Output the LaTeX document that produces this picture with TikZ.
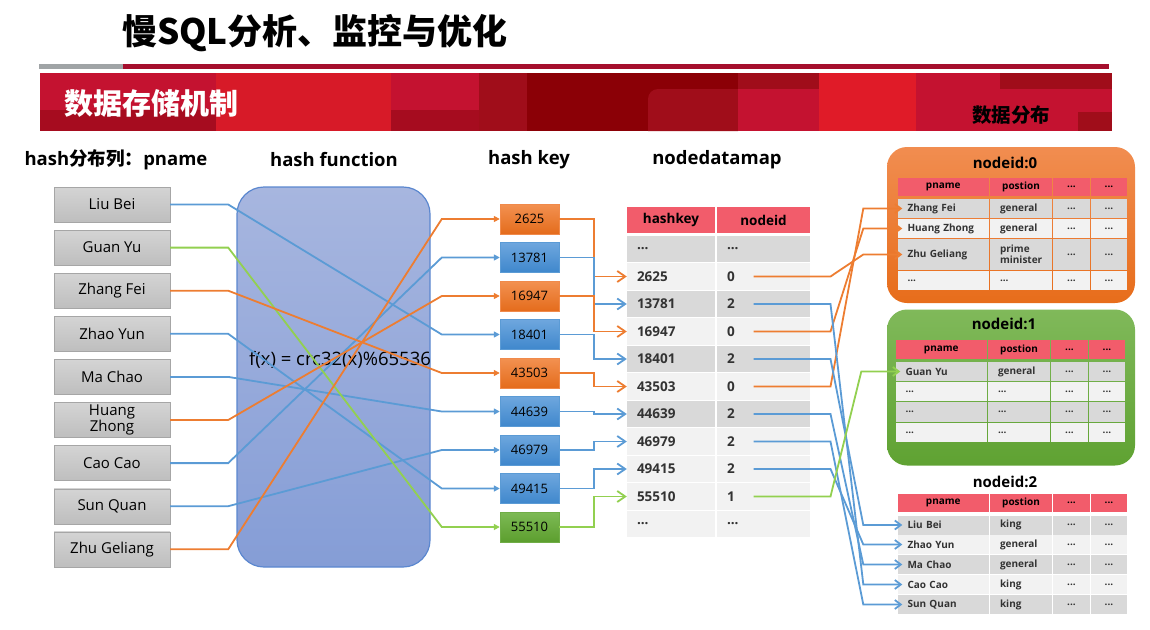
\documentclass[tikz,border=0pt]{standalone}
\usepackage{fontspec}
\setmainfont{Open Sans}
\newfontfamily\cjk{Noto Sans CJK SC}
\usetikzlibrary{arrows.meta}

\definecolor{orline}{HTML}{ED7D31}
\definecolor{blline}{HTML}{5B9BD5}
\definecolor{grline}{HTML}{92D050}
\definecolor{ortop}{HTML}{F39151}
\definecolor{orbot}{HTML}{E46C1C}
\definecolor{orbd}{HTML}{F08A4B}
\definecolor{bltop}{HTML}{6EA7DE}
\definecolor{blbot}{HTML}{3F87CC}
\definecolor{blbd}{HTML}{5B9BD5}
\definecolor{grtop}{HTML}{7DBA55}
\definecolor{grbot}{HTML}{5C9E2E}
\definecolor{grbd}{HTML}{70AD47}
\definecolor{dk}{HTML}{D9D9D9}
\definecolor{lt}{HTML}{F2F2F2}
\definecolor{hdred}{HTML}{F25C6B}
\definecolor{txt}{HTML}{333333}
\definecolor{gtop}{HTML}{D4D4D4}
\definecolor{gbot}{HTML}{BEBEBE}
\definecolor{gbd}{HTML}{A6A6A6}
\definecolor{hftop}{HTML}{A7B6DF}
\definecolor{hfbot}{HTML}{859DD6}
\definecolor{hfbd}{HTML}{5B87CF}
\definecolor{nor1}{HTML}{F18D50}
\definecolor{nor2}{HTML}{E76D1B}
\definecolor{ngr1}{HTML}{80B95A}
\definecolor{ngr2}{HTML}{5FA232}
\definecolor{barg}{HTML}{A0A4A6}
\definecolor{barr}{HTML}{A50F2D}
\definecolor{bn1}{HTML}{C41230}
\definecolor{bn2}{HTML}{A60C1F}
\definecolor{bn3}{HTML}{D71A28}
\definecolor{bn4}{HTML}{A00D1A}
\definecolor{bn5}{HTML}{8B0006}
\definecolor{bn6}{HTML}{E01B28}

\newcommand\fsz[2]{\fontsize{#1}{#2}\selectfont}
\newcommand\dd{...}

\tikzset{>=stealth,
  namebox/.style={draw=gbd, top color=gtop, bottom color=gbot, minimum width=116, minimum height=35, inner sep=1pt, align=center, font=\fsz{15}{16}},
  keybox/.style={draw=#1bd, top color=#1top, bottom color=#1bot, minimum width=59, minimum height=30, font=\fsz{13}{14}},
  link/.style={draw=#1line, line width=1.8pt},
  collabel/.style={font=\bfseries\fsz{18.5}{20}},
  hdcell/.style={fill=hdred, inner sep=0pt, font=\bfseries\fsz{13.5}{15}},
  hkcell/.style={inner ysep=0pt, inner xsep=10pt, text width=68pt, align=left, minimum height=26.5, text=txt, font=\bfseries\fsz{13.5}{15}},
  nicell/.style={hkcell, text width=73pt},
  thd/.style={fill=hdred, inner sep=0pt, font=\bfseries\fsz{10}{11}},
  tcell/.style={inner ysep=0pt, text=txt, font=\bfseries\fsz{10}{11}},
  cA/.style={tcell, inner xsep=10pt, text width=71.5pt, align=left},
  cB/.style={tcell, inner xsep=10pt, text width=42pt, align=left},
  cC/.style={tcell, inner xsep=0pt, text width=37pt, align=center},
  cD/.style={tcell, inner xsep=0pt, text width=36pt, align=center},
  nbox/.style={rounded corners=20pt, minimum width=248, minimum height=156},
  intokey/.style={-{Triangle[length=6pt,width=6pt]}},
  intorow/.style={-{Straight Barb[length=8pt,width=11pt]}},
  intotab/.style={-{Straight Barb[length=6pt,width=9pt]}}
}

\begin{document}
\begin{tikzpicture}[x=1pt,y=-1pt]
\useasboundingbox (0,0) rectangle (1150,629);

\node[font=\cjk\bfseries\fsz{35}{38}] (title) at (315,33) {慢SQL分析、监控与优化};
\fill[barg] (39,63.5) rectangle (123,68.5);
\fill[barr] (123,63.5) rectangle (1109,68.5);
\fill[bn1] (40,73) rectangle (1112,131);
\fill[bn2] (40,110) rectangle (216,131);
\fill[bn3] (216,73) rectangle (391,131);
\fill[bn2] (391,110) rectangle (479,131);
\fill[bn4] (479,73) rectangle (527,131);
\fill[bn5] (527,73) rectangle (738,131);
\fill[bn4] (648,131) -- (648,99) arc[start angle=180, end angle=270, radius=10] -- (738,89) -- (738,131) -- cycle;
\fill[bn4] (738,73) rectangle (819,89);
\fill[bn1] (738,89) rectangle (819,131);
\fill[bn6] (819,73) rectangle (916,131);
\fill[bn4] (1000,73) rectangle (1112,89);
\fill[bn4] (1078,112) rectangle (1112,131);
\node[font=\cjk\bfseries\fsz{29}{30}, text=white] (sec) at (151,103) {数据存储机制};
\node[font=\cjk\bfseries\fsz{19.5}{20}] (dist) at (1011,115) {数据分布};

\node[collabel] (lpname) at (116,160) {hash{\cjk\bfseries 分布列：}pname};
\node[collabel] (lfunc) at (334,160) {hash function};
\node[collabel] (lkey) at (529,160) {hash key};
\node[collabel] (lmap) at (717,160) {nodedatamap};

% pname boxes
\foreach \n/\t [count=\i] in {liubei/Liu Bei, guanyu/Guan Yu, zhangfei/Zhang Fei, zhaoyun/Zhao Yun, machao/Ma Chao, huangzhong/{Huang\\Zhong}, caocao/Cao Cao, sunquan/Sun Quan, zhugeliang/Zhu Geliang}
  \node[namebox] (\n) at (112,{204.5+43.1*(\i-1)}) {\t};

% hash function
\node[draw=hfbd, line width=1.2pt, top color=hftop, bottom color=hfbot, rounded corners=27pt, minimum width=193, minimum height=380] (hf) at (333.5,377) {};
\node[font=\fsz{18.5}{20}] (fx) at (340,360) {f(x) = crc32(x)\%65536};

% hash keys
\foreach \k/\c [count=\i] in {2625/or, 13781/bl, 16947/or, 18401/bl, 43503/or, 44639/bl, 46979/bl, 49415/bl, 55510/gr}
  \node[keybox=\c] (k\k) at (529.5,{219+38.5*(\i-1)}) {\k};

\foreach \a/\b/\c in {liubei/18401/bl, zhaoyun/49415/bl, machao/44639/bl, caocao/13781/bl, sunquan/46979/bl, guanyu/55510/gr, zhangfei/43503/or, huangzhong/16947/or, zhugeliang/2625/or}
  \draw[link=\c, intokey] (\a.east) -- ++(58,0) -- ([xshift=-58]k\b.west) -- (k\b.west);

% nodedatamap
\node[hdcell, minimum width=88, minimum height=26] (hhk) at (671,220) {hashkey};
\node[hdcell, minimum width=93, minimum height=26] (hni) at (763.5,220) {nodeid};
\foreach \a/\b/\f [count=\i] in {\dd/\dd/dk, 2625/0/lt, 13781/2/dk, 16947/0/lt, 18401/2/dk, 43503/0/lt, 44639/2/dk, 46979/2/lt, 49415/2/lt, 55510/1/lt, \dd/\dd/lt}{
  \node[hkcell, fill=\f] (hk\i) at (671,{249+27.5*(\i-1)}) {\a};
  \node[nicell, fill=\f] (ni\i) at (763.5,{249+27.5*(\i-1)}) {\b};
}

\foreach \k/\r/\c in {2625/2/or, 13781/3/bl, 16947/4/or, 18401/5/bl, 43503/6/or, 44639/7/bl, 46979/8/bl, 49415/9/bl, 55510/10/gr}
  \draw[link=\c, intorow] (k\k.east) -- ++(35,0) |- (hk\r.west);

% nodeid:0
\node[nbox, top color=nor1, bottom color=nor2] (nd0) at (1011,225) {};
\node[font=\bfseries\fsz{15}{16}] (nd0t) at (1005,163) {nodeid:0};
\foreach \x/\w/\t in {943.25/91.5/pname, 1021/62/postion, 1071.5/37/\dd, 1109/36/\dd}
  \node[thd, minimum width=\w, minimum height=18] at (\x,187) {\t};
\foreach \y/\h/\f/\a/\b [count=\i] in {208.5/19/dk/Zhang Fei/general, 228.5/19/lt/Huang Zhong/general, 254.5/31/dk/Zhu Geliang/{prime\\minister}, 280.5/19/lt/\dd/\dd}{
  \node[cA, fill=\f, minimum height=\h] (t0r\i) at (943.25,\y) {\a};
  \node[cB, fill=\f, minimum height=\h] at (1021,\y) {\b};
  \node[cC, fill=\f, minimum height=\h] at (1071.5,\y) {\dd};
  \node[cD, fill=\f, minimum height=\h] at (1109,\y) {\dd};
}

% nodeid:1
\node[nbox, top color=ngr1, bottom color=ngr2] (nd1) at (1011,387.5) {};
\node[font=\bfseries\fsz{15}{16}] (nd1t) at (1004,324) {nodeid:1};
\foreach \x/\w/\t in {941.25/91.5/pname, 1019/62/postion, 1069.5/37/\dd, 1107/36/\dd}
  \node[thd, minimum width=\w, minimum height=19] at (\x,349.5) {\t};
\foreach \y/\f/\a/\b [count=\i] in {371.5/dk/Guan Yu/general, 391.5/lt/\dd/\dd, 412/dk/\dd/\dd, 432.5/lt/\dd/\dd}{
  \node[cA, fill=\f, minimum height=19.5] (t1r\i) at (941.25,\y) {\a};
  \node[cB, fill=\f, minimum height=19.5] at (1019,\y) {\b};
  \node[cC, fill=\f, minimum height=19.5] at (1069.5,\y) {\dd};
  \node[cD, fill=\f, minimum height=19.5] at (1107,\y) {\dd};
}

% nodeid:2
\node[font=\bfseries\fsz{15}{16}] (nd2t) at (1005,482) {nodeid:2};
\foreach \x/\w/\t in {943.25/91.5/pname, 1021/62/postion, 1071.5/37/\dd, 1109/36/\dd}
  \node[thd, minimum width=\w, minimum height=18] at (\x,503) {\t};
\foreach \y/\f/\a/\b [count=\i] in {525/dk/Liu Bei/king, 544.5/lt/Zhao Yun/general, 564.5/dk/Ma Chao/general, 584.5/lt/Cao Cao/king, 604.5/dk/Sun Quan/king}{
  \node[cA, fill=\f, minimum height=19] (t2r\i) at (943.25,\y) {\a};
  \node[cB, fill=\f, minimum height=19] at (1021,\y) {\b};
  \node[cC, fill=\f, minimum height=19] at (1071.5,\y) {\dd};
  \node[cD, fill=\f, minimum height=19] at (1109,\y) {\dd};
}

\foreach \r/\t/\c in {2/t0r3/or, 4/t0r2/or, 6/t0r1/or, 3/t2r4/bl, 5/t2r1/bl, 7/t2r3/bl, 8/t2r5/bl, 9/t2r2/bl, 10/t1r1/gr}
  \draw[link=\c, intotab] ([xshift=-10]ni\r.center) -- ++(77,0) -- ([xshift=-34]\t.west) -- ([xshift=5]\t.west);

\end{tikzpicture}
\end{document}
